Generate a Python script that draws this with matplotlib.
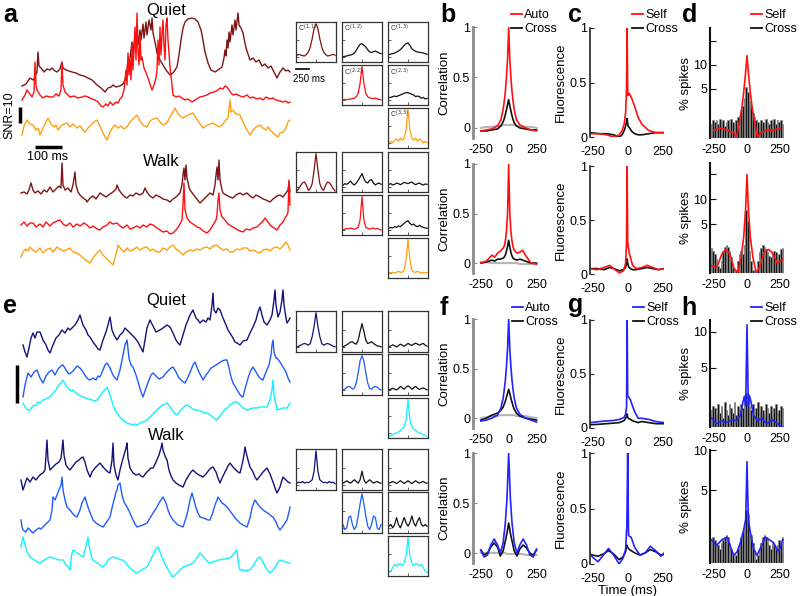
import numpy as np
import matplotlib
matplotlib.use('Agg')
import matplotlib.pyplot as plt

plt.rcParams['font.family'] = ['Liberation Sans', 'DejaVu Sans']
plt.rcParams['font.size'] = 9

W, H = 800, 596
fig = plt.figure(figsize=(8, 5.96), dpi=100)


def px_axes(x0, y0, x1, y1, **kw):
    return fig.add_axes([x0 / W, 1 - y1 / H, (x1 - x0) / W, (y1 - y0) / H], **kw)

# ---------------- colours ----------------
C_DRED, C_RED, C_ORG = '#7f1414', '#ff1010', '#ffa010'
C_NAVY, C_MBLUE, C_CYAN = '#12127a', '#1f5cff', '#10f0ff'
C_BLUE = '#2222ff'

# ---------------- raw traces (time sample, depth reading) ----------------
a_quiet_1 = [(22,86),(26,84),(30,78),(33,80),(35,77),(37,72),(38,52),(39,66),(41,68),(44,72),(47,69),(50,70),(52,68),(55,71),(57,72),(60,69),(62,62),(63,68),(66,70),(69,71),(72,72),(76,73),(80,75),(84,76),(88,78),(92,80),(97,85),(101,88),(105,92),(108,88),(111,87),(113,85),(116,87),(120,86),(123,84),(125,80),(127,70),(128,58),(129,66),(131,50),(132,42),(133,55),(135,35),(136,48),(137,27),(138,45),(140,30),(141,40),(143,24),(144,38),(146,22),(147,35),(149,20),(151,30),(152,18),(153,33),(155,42),(157,53),(160,60),(163,65),(166,70),(170,75),(173,73),(177,67),(179,55),(181,40),(183,28),(185,22),(188,19),(192,18),(195,19),(198,22),(201,30),(203,40),(205,52),(208,63),(211,70),(215,72),(218,70),(222,67),(224,58),(225,50),(226,56),(227,40),(228,48),(229,32),(230,42),(232,25),(233,35),(235,20),(236,30),(238,13),(239,25),(241,28),(243,33),(246,48),(250,60),(253,58),(256,62),(259,60),(262,66),(265,64),(268,68),(271,66),(274,72),(277,78),(280,72),(283,68),(286,71),(288,70),(290,72)]
a_quiet_2 = [(22,100),(25,95),(27,90),(30,94),(32,97),(34,92),(35,62),(36,85),(37,90),(40,95),(43,98),(46,96),(50,97),(53,97),(56,94),(59,96),(61,90),(62,63),(63,85),(65,92),(68,95),(70,97),(74,96),(78,98),(82,97),(85,96),(88,97),(92,99),(95,100),(98,102),(101,106),(103,107),(106,104),(108,106),(110,102),(113,105),(116,102),(118,103),(120,99),(122,97),(124,90),(125,80),(126,70),(127,85),(128,53),(129,75),(130,60),(131,80),(132,45),(133,70),(134,50),(135,27),(136,60),(137,13),(138,50),(139,65),(140,35),(141,60),(142,57),(144,68),(147,75),(150,84),(152,90),(154,85),(156,78),(157,70),(158,40),(159,65),(160,27),(161,55),(162,35),(163,20),(164,45),(165,60),(166,25),(167,18),(168,40),(170,67),(172,85),(173,95),(176,97),(179,96),(182,98),(185,100),(188,99),(192,102),(195,100),(198,98),(200,97),(204,96),(207,95),(210,93),(214,92),(218,90),(220,88),(223,89),(225,86),(227,87),(229,90),(231,93),(233,95),(236,94),(240,96),(243,97),(247,95),(250,98),(253,97),(257,99),(260,98),(263,100),(266,97),(270,99),(273,98),(276,100),(280,101),(283,102),(286,101),(288,103),(290,102)]
a_quiet_3 = [(22,135),(24,126),(27,120),(30,124),(33,125),(36,130),(38,128),(40,135),(43,128),(46,122),(48,118),(51,124),(54,127),(56,125),(58,130),(61,126),(64,124),(67,123),(70,127),(73,124),(77,128),(80,126),(83,130),(85,132),(88,128),(91,125),(94,122),(97,120),(100,126),(103,133),(105,137),(107,140),(110,132),(113,127),(115,125),(118,128),(121,126),(124,129),(127,127),(130,122),(133,119),(135,117),(137,115),(140,121),(143,125),(147,127),(150,121),(153,119),(157,118),(160,122),(163,125),(167,123),(170,117),(173,112),(175,108),(177,112),(180,116),(183,118),(186,116),(190,114),(193,113),(196,118),(200,124),(203,128),(206,126),(210,124),(213,123),(216,125),(219,127),(222,125),(225,121),(228,118),(230,100),(231,112),(233,110),(236,114),(240,115),(243,122),(246,128),(250,135),(253,130),(256,127),(260,125),(263,128),(266,130),(268,127),(271,131),(274,134),(278,137),(280,133),(283,132),(286,128),(288,122),(290,120)]

a_walk_1 = [(21,193),(24,192),(27,194),(29,190),(31,183),(33,190),(35,193),(38,191),(41,194),(44,190),(47,192),(50,187),(53,192),(56,189),(59,186),(61,188),(62,163),(63,185),(65,190),(68,188),(71,192),(73,185),(75,172),(76,185),(78,192),(80,195),(83,198),(86,200),(87,202),(90,198),(93,196),(96,199),(100,193),(103,195),(106,197),(110,194),(113,192),(116,189),(117,185),(119,190),(122,194),(125,197),(127,198),(130,195),(133,196),(136,193),(140,195),(143,193),(145,188),(147,192),(150,196),(153,198),(156,195),(160,197),(163,199),(167,200),(170,202),(173,199),(176,197),(180,193),(182,185),(183,175),(184,168),(185,180),(186,165),(187,178),(189,187),(190,190),(193,194),(196,198),(200,203),(203,200),(206,197),(210,193),(213,195),(215,185),(216,175),(217,167),(218,180),(219,160),(220,180),(222,190),(223,193),(226,195),(230,197),(233,198),(236,195),(240,193),(243,195),(247,193),(250,196),(253,198),(256,195),(260,197),(263,199),(266,200),(270,202),(273,199),(277,196),(280,195),(283,197),(286,193),(288,190),(289,182),(290,192)]
a_walk_2 = [(21,225),(24,222),(27,226),(30,223),(33,223),(36,227),(40,224),(43,227),(46,222),(50,226),(53,223),(57,221),(60,220),(63,224),(66,226),(70,223),(73,227),(77,224),(80,226),(84,223),(87,225),(90,228),(93,226),(97,229),(100,230),(103,227),(107,225),(110,222),(113,224),(117,223),(120,226),(123,228),(127,225),(130,229),(133,228),(137,226),(140,228),(143,225),(147,227),(150,224),(153,225),(157,228),(160,230),(163,232),(167,231),(170,234),(173,233),(176,230),(179,226),(181,222),(182,220),(183,205),(184,183),(185,210),(187,218),(190,222),(193,224),(197,227),(200,228),(203,231),(207,233),(210,230),(213,225),(216,220),(217,215),(218,200),(219,193),(220,210),(222,217),(225,220),(228,224),(231,226),(233,227),(236,229),(240,231),(243,232),(246,229),(250,230),(253,228),(257,227),(260,224),(263,221),(265,218),(268,222),(271,226),(274,228),(277,230),(280,225),(283,222),(285,218),(287,215),(288,212),(289,180),(290,205)]
a_walk_3 = [(21,257),(23,252),(26,249),(28,251),(30,247),(33,250),(36,252),(40,248),(43,253),(46,250),(50,248),(53,252),(57,247),(60,249),(63,251),(66,250),(70,248),(73,252),(77,253),(80,255),(83,258),(87,261),(90,263),(93,258),(96,254),(100,250),(103,255),(106,258),(110,262),(113,265),(115,258),(117,250),(118,245),(121,249),(124,252),(127,248),(130,251),(133,250),(137,247),(140,250),(143,248),(147,247),(150,251),(153,249),(157,252),(160,252),(163,248),(167,250),(170,247),(173,245),(176,249),(180,252),(183,255),(186,252),(190,250),(193,251),(197,249),(200,250),(203,248),(207,247),(210,249),(213,246),(217,245),(220,248),(223,250),(227,249),(230,252),(233,252),(237,249),(240,250),(243,248),(247,248),(250,251),(253,250),(257,252),(260,253),(263,250),(267,249),(270,251),(273,248),(277,247),(280,249),(283,246),(286,242),(288,245),(290,250)]

e_quiet_1 = [(23,345),(25,352),(27,357),(29,348),(31,338),(33,333),(35,338),(37,332),(40,332),(43,340),(46,345),(48,350),(50,353),(53,345),(56,338),(59,335),(62,330),(65,333),(68,328),(70,330),(73,327),(75,325),(78,320),(80,315),(83,325),(86,330),(88,335),(90,337),(93,342),(96,346),(98,349),(100,350),(103,340),(106,332),(108,325),(110,317),(112,330),(114,335),(117,340),(120,335),(123,332),(125,328),(127,330),(130,333),(133,336),(135,338),(138,342),(141,348),(143,352),(145,340),(147,328),(150,320),(153,326),(156,332),(160,330),(163,328),(167,325),(170,327),(173,333),(176,340),(178,343),(180,345),(183,335),(186,325),(190,315),(193,310),(196,318),(198,320),(200,323),(203,320),(206,322),(208,318),(210,320),(212,305),(213,293),(214,310),(216,313),(218,308),(220,310),(223,318),(226,325),(228,330),(230,333),(233,338),(235,342),(237,343),(240,345),(243,341),(247,340),(250,333),(253,327),(256,320),(258,312),(260,307),(262,315),(264,322),(267,325),(270,320),(272,315),(274,300),(275,290),(276,305),(278,317),(280,312),(282,300),(283,290),(284,305),(286,318),(287,323),(289,320),(290,318)]
e_quiet_2 = [(23,397),(25,385),(28,373),(31,377),(34,372),(37,370),(40,378),(43,383),(46,376),(49,372),(52,370),(55,375),(58,369),(61,366),(63,365),(66,370),(69,374),(71,373),(74,370),(77,366),(80,368),(83,372),(86,377),(88,379),(90,380),(93,378),(96,380),(98,376),(100,377),(103,370),(105,365),(107,363),(110,368),(113,375),(115,378),(117,380),(120,370),(123,355),(125,345),(127,340),(129,358),(131,365),(133,367),(136,375),(139,385),(141,392),(143,397),(146,388),(149,380),(151,375),(153,373),(156,376),(159,379),(161,378),(163,377),(166,373),(169,370),(171,368),(173,367),(176,372),(179,378),(182,381),(185,383),(188,377),(191,370),(193,365),(195,362),(198,370),(201,376),(203,380),(206,375),(209,371),(211,368),(213,367),(216,365),(219,363),(222,361),(225,360),(227,360),(229,368),(231,377),(233,383),(236,388),(239,393),(241,396),(243,397),(246,385),(249,375),(251,370),(253,367),(256,372),(259,377),(261,379),(263,380),(266,372),(269,365),(271,355),(272,345),(273,340),(274,352),(276,358),(277,358),(280,362),(283,367),(286,372),(288,378),(290,382)]
e_quiet_3 = [(23,403),(25,407),(28,410),(30,410),(33,406),(36,405),(38,402),(40,403),(43,400),(46,399),(48,398),(50,397),(53,393),(56,390),(58,386),(61,383),(63,380),(65,384),(68,388),(71,391),(73,390),(76,393),(79,395),(81,396),(83,397),(86,398),(89,399),(92,400),(95,401),(97,400),(100,396),(103,392),(105,390),(107,387),(109,392),(111,398),(113,405),(115,410),(117,413),(120,417),(123,420),(125,422),(127,423),(130,424),(133,425),(135,424),(137,425),(140,423),(143,422),(145,421),(147,420),(150,417),(153,414),(155,412),(157,410),(160,407),(163,405),(165,404),(167,403),(170,407),(173,411),(175,414),(177,415),(180,411),(183,408),(185,406),(187,405),(190,407),(193,409),(195,410),(197,410),(200,411),(203,412),(205,413),(207,413),(210,415),(213,417),(215,419),(217,420),(220,416),(223,412),(225,409),(227,408),(230,405),(233,403),(235,402),(237,402),(240,405),(243,408),(245,409),(247,410),(250,409),(253,408),(255,408),(257,408),(260,407),(263,407),(265,407),(267,407),(270,400),(272,390),(273,380),(274,395),(276,405),(277,410),(280,409),(283,408),(285,408),(287,408),(289,405),(290,403)]

e_walk_1 = [(21,480),(23,490),(25,484),(27,478),(30,482),(33,477),(36,480),(39,476),(41,474),(43,473),(45,470),(46,455),(47,440),(48,460),(50,470),(53,467),(56,464),(59,462),(61,458),(62,450),(63,440),(64,455),(66,465),(68,468),(70,470),(73,466),(76,462),(79,460),(81,458),(83,457),(85,462),(87,470),(90,477),(92,472),(95,468),(98,465),(100,463),(103,467),(106,470),(108,472),(110,473),(112,460),(113,443),(114,465),(116,475),(118,480),(120,470),(122,462),(124,455),(126,448),(127,443),(128,458),(130,468),(133,473),(136,475),(139,474),(141,476),(143,477),(146,473),(149,470),(151,468),(153,468),(156,462),(159,455),(161,448),(162,443),(163,450),(165,456),(167,460),(169,470),(171,476),(173,480),(176,483),(179,485),(181,486),(183,487),(186,480),(189,475),(191,472),(193,470),(196,473),(199,475),(201,476),(203,477),(206,474),(209,470),(211,468),(213,467),(216,472),(218,478),(220,483),(223,476),(226,470),(228,466),(230,463),(233,467),(236,470),(238,472),(240,473),(242,465),(244,455),(245,447),(246,452),(248,460),(250,467),(253,472),(255,477),(257,480),(260,476),(263,472),(265,470),(267,468),(270,474),(273,482),(275,488),(277,493),(280,487),(282,480),(283,477),(286,480),(288,482),(290,483)]
e_walk_2 = [(21,520),(22,527),(23,530),(26,532),(28,528),(31,531),(33,533),(36,530),(39,528),(41,529),(43,527),(46,524),(48,522),(50,520),(52,510),(53,497),(55,500),(57,495),(59,490),(61,485),(62,477),(63,490),(65,500),(67,507),(70,510),(73,514),(75,516),(77,517),(80,510),(82,503),(84,499),(85,497),(87,504),(89,510),(91,515),(93,520),(96,523),(99,525),(101,526),(103,527),(106,523),(108,520),(110,517),(112,508),(114,500),(116,492),(117,490),(118,485),(120,483),(122,495),(124,502),(127,507),(130,513),(133,520),(135,524),(137,527),(140,526),(143,525),(145,524),(147,523),(150,518),(153,513),(155,510),(157,507),(159,503),(161,500),(163,497),(166,503),(168,510),(170,515),(173,520),(176,523),(178,525),(181,526),(183,527),(186,518),(188,510),(190,500),(192,493),(194,500),(196,508),(198,513),(200,517),(203,518),(206,519),(208,520),(210,520),(213,512),(215,505),(217,500),(218,497),(220,500),(222,503),(225,505),(227,507),(230,511),(233,515),(235,518),(237,520),(240,523),(243,525),(245,526),(247,527),(250,518),(252,508),(254,502),(255,500),(257,503),(260,507),(263,510),(266,512),(269,514),(271,516),(273,517),(276,522),(278,527),(280,530),(283,526),(285,523),(287,520),(289,512),(290,507)]
e_walk_3 = [(21,547),(22,542),(23,537),(25,545),(27,552),(30,557),(33,559),(36,561),(38,562),(40,563),(43,561),(46,559),(48,558),(50,557),(53,558),(56,559),(59,560),(61,560),(63,560),(65,563),(67,566),(69,568),(70,570),(71,560),(72,553),(73,550),(76,552),(79,554),(81,556),(83,557),(85,550),(87,542),(88,537),(89,545),(91,555),(93,560),(96,562),(99,564),(101,566),(103,567),(106,564),(108,560),(111,558),(113,557),(116,558),(119,559),(121,560),(123,560),(126,563),(129,567),(132,570),(135,572),(137,573),(140,571),(143,569),(145,568),(147,567),(150,561),(153,555),(155,550),(157,548),(158,547),(160,552),(162,557),(163,560),(166,566),(169,571),(171,575),(173,577),(176,574),(179,571),(181,569),(183,567),(186,566),(189,565),(191,564),(193,563),(196,559),(198,556),(200,553),(203,556),(206,560),(208,562),(210,563),(213,562),(216,561),(218,560),(220,560),(223,559),(226,559),(228,558),(230,558),(233,555),(235,552),(237,550),(238,560),(239,567),(240,570),(243,570),(246,571),(248,570),(250,570),(253,566),(256,561),(258,558),(260,557),(263,562),(266,568),(268,571),(270,573),(273,570),(276,566),(278,562),(280,560),(283,561),(286,562),(288,563),(290,563)]

# ---------------- correlation matrices (insets) ----------------
inset_lags = [-250,-225,-200,-175,-150,-125,-100,-75,-50,-25,0,25,50,75,100,125,150,175,200,225,250]
aq_c11 = [0.05,0.08,0.06,0.04,0.03,0.08,0.15,0.3,0.55,0.85,1.0,0.85,0.55,0.3,0.15,0.08,0.03,0.04,0.06,0.08,0.05]
aq_c12 = [0.0,0.02,0.03,0.05,0.06,0.08,0.12,0.2,0.3,0.38,0.4,0.35,0.3,0.22,0.15,0.14,0.16,0.18,0.15,0.12,0.1]
aq_c13 = [0.07,0.09,0.1,0.12,0.15,0.18,0.22,0.28,0.35,0.4,0.42,0.35,0.25,0.2,0.17,0.15,0.14,0.13,0.12,0.1,0.08]
aq_c22 = [0.0,0.02,0.0,0.03,0.02,0.05,0.05,0.1,0.2,0.5,1.0,0.5,0.2,0.1,0.06,0.05,0.04,0.06,0.03,0.02,0.0]
aq_c23 = [0.07,0.08,0.1,0.12,0.1,0.13,0.15,0.18,0.2,0.22,0.22,0.2,0.17,0.15,0.1,0.12,0.1,0.05,0.08,0.03,0.05]
aq_c33 = [0.0,0.05,0.0,0.08,0.12,0.05,0.15,0.08,0.15,0.4,1.0,0.4,0.15,0.08,0.15,0.05,0.12,0.08,0.0,0.05,0.0]
aw_c11 = [-0.12,-0.05,0.05,0.13,0.15,0.05,-0.1,-0.05,0.1,0.5,1.0,0.5,0.1,-0.05,-0.1,0.05,0.15,0.13,0.05,-0.05,-0.12]
aw_c12 = [0.05,0.1,0.08,0.12,0.18,0.1,0.06,0.12,0.2,0.3,0.4,0.25,0.15,0.12,0.2,0.22,0.12,0.06,0.1,0.12,0.08]
aw_c13 = [0.08,0.1,0.06,0.08,0.12,0.1,0.07,0.1,0.14,0.12,0.1,0.13,0.15,0.1,0.07,0.1,0.12,0.08,0.06,0.09,0.08]
aw_c22 = [0.0,0.02,0.05,0.03,0.06,0.04,0.02,0.05,0.08,0.3,1.0,0.3,0.08,0.05,0.02,0.05,0.06,0.03,0.05,0.02,0.0]
aw_c23 = [0.05,0.08,0.06,0.1,0.08,0.12,0.1,0.15,0.2,0.25,0.28,0.2,0.15,0.18,0.12,0.1,0.14,0.1,0.08,0.06,0.05]
aw_c33 = [0.0,0.01,0.02,0.0,0.02,0.05,0.02,0.03,0.08,0.4,1.0,0.4,0.08,0.03,0.02,0.05,0.02,0.0,0.02,0.01,0.0]
eq_c11 = [0.0,0.02,0.05,0.08,0.1,0.08,0.05,0.1,0.3,0.6,1.0,0.6,0.3,0.1,0.05,0.08,0.1,0.08,0.05,0.02,0.0]
eq_c12 = [0.0,0.03,0.06,0.1,0.14,0.15,0.1,0.08,0.2,0.45,0.68,0.45,0.2,0.1,0.12,0.15,0.1,0.06,0.03,0.02,0.0]
eq_c13 = [0.0,0.03,0.06,0.03,0.0,0.04,0.08,0.05,0.02,0.06,0.1,0.07,0.04,0.08,0.11,0.08,0.05,0.08,0.1,0.05,0.02]
eq_c22 = [0.0,0.02,0.08,0.1,0.08,0.02,0.05,0.2,0.5,0.85,1.0,0.85,0.5,0.2,0.05,0.02,0.08,0.1,0.08,0.02,0.0]
eq_c23 = [0.0,0.02,0.05,0.02,0.0,0.04,0.1,0.06,0.02,0.08,0.12,0.08,0.02,0.06,0.1,0.05,0.01,0.04,0.06,0.03,0.0]
eq_c33 = [-0.1,-0.08,-0.05,-0.02,0.0,0.03,0.07,0.12,0.2,0.4,1.0,0.4,0.2,0.12,0.07,0.03,0.0,-0.02,-0.05,-0.08,-0.1]
ew_c11 = [0.05,0.08,0.06,0.1,0.05,0.08,0.06,0.1,0.15,0.4,1.0,0.4,0.15,0.1,0.06,0.08,0.05,0.1,0.06,0.08,0.03]
ew_c12 = [0.05,0.08,0.12,0.08,0.05,0.1,0.15,0.1,0.05,0.15,0.4,0.15,0.05,0.1,0.15,0.1,0.05,0.08,0.1,0.06,0.05]
ew_c13 = [0.05,0.07,0.1,0.07,0.04,0.08,0.12,0.08,0.04,0.08,0.12,0.08,0.04,0.08,0.12,0.08,0.05,0.08,0.1,0.06,0.05]
ew_c22 = [0.1,-0.05,0.0,0.3,0.35,0.1,-0.05,0.05,0.35,0.7,1.0,0.7,0.35,0.05,-0.05,0.1,0.35,0.3,0.0,-0.05,0.1]
ew_c23 = [0.05,0.1,0.0,0.1,0.3,0.1,0.0,0.15,0.3,0.15,0.05,0.15,0.35,0.15,0.05,0.2,0.3,0.1,0.05,0.1,0.05]
ew_c33 = [-0.05,0.0,0.1,0.2,0.15,0.2,0.22,0.15,0.25,0.45,1.0,0.45,0.25,0.15,0.22,0.2,0.15,0.2,0.1,0.0,-0.05]

# ---------------- population correlations (b, f) ----------------
b1_lag = [-250,-200,-150,-100,-70,-50,-40,-30,-20,-10,0,10,20,30,40,50,70,100,150,200,250]
b1_auto = [-0.03,-0.02,-0.01,0.02,0.08,0.18,0.26,0.36,0.5,0.68,1.0,0.68,0.5,0.36,0.26,0.18,0.08,0.03,0.0,-0.02,-0.03]
b1_cross = [-0.03,-0.03,-0.02,-0.01,0.02,0.06,0.09,0.13,0.18,0.23,0.28,0.22,0.17,0.12,0.08,0.05,0.02,0.0,-0.01,-0.02,-0.02]
b1_shuf = [0.0,0.01,0.01,0.02,0.02,0.03,0.03,0.03,0.03,0.03,0.03,0.03,0.03,0.03,0.03,0.03,0.02,0.02,0.01,0.01,0.0]
b2_lag = [-250,-200,-150,-125,-100,-75,-50,-40,-30,-20,-10,0,10,20,30,40,50,75,100,125,150,200,250]
b2_auto = [0.0,0.02,0.08,0.06,0.1,0.12,0.15,0.17,0.22,0.32,0.5,1.0,0.5,0.32,0.22,0.16,0.13,0.1,0.11,0.13,0.08,0.0,-0.01]
b2_cross = [0.0,0.01,0.03,0.02,0.04,0.04,0.05,0.06,0.08,0.12,0.17,0.23,0.16,0.11,0.07,0.05,0.04,0.03,0.04,0.03,0.02,0.0,0.0]
b2_shuf = [0.01,0.01,0.0,0.0,0.0,0.0,0.0,0.0,0.0,0.0,0.0,0.0,0.0,0.0,0.0,0.0,0.0,0.0,-0.01,-0.01,-0.01,-0.01,-0.01]
f1_auto = [-0.03,-0.02,0.0,0.03,0.1,0.2,0.28,0.38,0.52,0.7,1.0,0.7,0.52,0.38,0.28,0.2,0.1,0.04,0.0,-0.02,-0.04]
f1_cross = [-0.02,0.0,0.03,0.05,0.08,0.11,0.14,0.17,0.21,0.25,0.29,0.25,0.2,0.16,0.12,0.09,0.05,0.02,0.0,-0.01,-0.02]
f1_shuf = [0.0,0.01,0.02,0.02,0.03,0.03,0.03,0.03,0.03,0.03,0.03,0.03,0.03,0.03,0.03,0.03,0.02,0.02,0.02,0.01,0.0]
f2_lag = [-250,-220,-190,-160,-130,-100,-75,-50,-30,-15,0,15,30,50,75,100,130,160,190,220,250]
f2_auto = [0.03,-0.04,-0.02,0.08,0.14,0.08,0.0,0.1,0.3,0.55,1.0,0.55,0.3,0.1,0.0,0.08,0.14,0.08,-0.02,-0.04,0.04]
f2_cross = [0.03,-0.02,0.0,0.06,0.1,0.06,-0.03,0.02,0.12,0.2,0.3,0.2,0.12,0.02,-0.03,0.04,0.08,0.05,0.0,-0.02,0.03]
f2_shuf = [0.0,0.0,0.0,0.0,0.0,0.0,0.0,0.0,0.0,-0.01,-0.01,-0.01,-0.01,-0.01,-0.01,-0.01,-0.01,-0.02,-0.02,-0.02,-0.02]

# ---------------- spike-triggered fluorescence (c, g) ----------------
c1_lag = [-270,-200,-150,-100,-60,-40,-25,-15,-8,-4,0,4,10,20,30,50,75,100,150,200,260]
c1_self = [0.03,0.03,0.02,0.0,0.02,0.06,0.12,0.22,0.45,1.0,0.42,0.38,0.4,0.38,0.35,0.28,0.18,0.12,0.06,0.04,0.04]
c1_cross = [0.04,0.03,0.03,0.02,0.0,0.02,0.06,0.1,0.14,0.17,0.12,0.1,0.09,0.07,0.05,0.03,0.02,0.02,0.03,0.04,0.04]
c2_lag = [-270,-220,-170,-130,-100,-60,-30,-15,-8,-4,0,4,10,20,35,60,100,140,180,220,260]
c2_self = [0.05,0.04,0.06,0.08,0.05,0.01,0.03,0.1,0.3,1.0,0.3,0.25,0.2,0.15,0.08,0.05,0.06,0.08,0.06,0.04,0.05]
c2_cross = [0.05,0.05,0.04,0.06,0.05,0.03,0.04,0.06,0.1,0.14,0.1,0.08,0.06,0.05,0.04,0.04,0.05,0.06,0.05,0.04,0.05]
g1_self = [0.05,0.06,0.065,0.07,0.08,0.09,0.1,0.13,0.2,1.0,0.3,0.29,0.28,0.26,0.22,0.15,0.09,0.09,0.08,0.06,0.05]
g1_cross = [0.03,0.035,0.04,0.045,0.05,0.06,0.07,0.09,0.11,0.13,0.1,0.09,0.085,0.08,0.07,0.06,0.05,0.06,0.05,0.04,0.04]
g2_lag = [-280,-250,-212,-175,-137,-100,-62,-35,-15,-6,0,6,12,25,50,88,125,162,200,238,270]
g2_self = [0.11,0.06,0.02,0.08,0.14,0.08,0.0,0.05,0.13,0.35,1.0,0.26,0.25,0.24,0.15,0.08,0.1,0.16,0.12,0.07,0.11]
g2_cross = [0.09,0.08,0.07,0.09,0.12,0.09,0.04,0.06,0.11,0.17,0.15,0.14,0.13,0.12,0.1,0.08,0.1,0.13,0.11,0.08,0.09]

# ---------------- spike cross-correlograms (d, h) ----------------
hist_bins = [-268.75 + 12.5 * i for i in range(44)]
d1_cross = [1.8,2.0,1.9,2.0,1.8,2.1,1.9,2.0,1.7,1.9,2.0,1.8,2.1,1.9,1.8,2.0,2.2,2.3,2.6,3.0,3.8,5.2,
            4.6,3.5,3.0,2.5,2.2,2.0,1.9,1.8,2.0,1.9,1.8,2.1,1.9,1.8,2.0,1.9,2.1,1.8,2.0,1.9,2.0,1.8]
d2_cross = [2.6,2.4,2.2,1.9,1.6,1.5,1.8,2.4,2.7,2.8,2.7,2.4,2.0,1.5,1.3,1.4,1.8,2.2,2.4,2.2,2.8,7.4,
            5.5,2.4,1.8,1.4,1.3,1.4,1.8,2.3,2.6,2.8,2.7,2.5,2.3,2.1,2.0,2.2,2.4,2.3,2.0,2.2,2.5,2.6]
h1_cross = [2.2,2.4,2.3,2.0,2.5,2.1,2.4,1.9,2.6,2.2,2.0,2.5,2.3,2.1,2.6,2.0,2.4,2.2,2.5,2.3,2.6,3.1,
            3.0,2.4,2.2,2.5,2.0,2.3,2.6,2.1,2.4,2.2,2.0,2.5,2.3,2.1,2.4,2.0,2.3,2.5,2.1,2.2,2.4,2.3]
h2_cross = [2.1,2.2,2.1,2.0,1.9,1.8,2.0,2.1,2.2,2.3,2.2,2.0,1.8,1.6,1.5,1.6,1.8,2.0,2.2,2.4,2.6,3.5,
            3.3,2.5,2.3,2.0,1.7,1.5,1.6,1.8,2.0,2.2,2.3,2.2,2.1,1.9,1.8,2.0,1.9,1.8,1.9,2.1,2.0,2.2]
d1_lag = [-250,-200,-150,-100,-80,-60,-40,-25,-12,0,12,25,40,60,80,100,150,200,250]
d1_self = [1.5,1.6,1.5,1.4,1.2,1.8,2.8,4.5,7.5,13,7.5,4.5,2.8,1.8,1.2,1.4,1.5,1.5,1.6]
dh_lag = [-270,-230,-190,-160,-130,-100,-70,-45,-25,-10,0,10,25,45,70,100,130,160,190,230,270]
d2_self = [1.6,1.5,2.2,2.5,2.2,1.5,1.3,2.0,3.5,8.0,20,8.0,3.5,2.0,1.3,1.6,2.3,2.5,2.3,1.7,1.9]
h1_lag = [-270,-230,-190,-150,-110,-80,-50,-30,-20,-10,0,10,20,30,50,80,110,150,190,230,270]
h1_self = [1.9,1.7,1.8,1.75,1.85,1.8,2.0,2.6,2.9,2.4,11.5,2.4,2.9,2.6,2.0,1.8,1.9,1.7,1.85,1.7,1.6]
h2_lag = [-270,-230,-190,-150,-120,-100,-75,-50,-25,-10,0,10,25,50,75,100,137,170,200,240,270]
h2_self = [2.1,1.9,2.1,2.2,1.8,1.6,1.7,2.0,2.5,3.0,8.2,3.0,2.4,1.8,1.6,1.8,2.2,2.1,2.0,1.7,2.1]

# =====================================================================
# Trace panels (a, e)
ax_tr = px_axes(0, 0, 300, 596)
ax_tr.set_xlim(0, 300)
ax_tr.set_ylim(596, 0)
ax_tr.axis('off')
for tr, col in [(a_quiet_1, C_DRED), (a_quiet_2, C_RED), (a_quiet_3, C_ORG),
                (a_walk_1, C_DRED), (a_walk_2, C_RED), (a_walk_3, C_ORG),
                (e_quiet_1, C_NAVY), (e_quiet_2, C_MBLUE), (e_quiet_3, C_CYAN),
                (e_walk_1, C_NAVY), (e_walk_2, C_MBLUE), (e_walk_3, C_CYAN)]:
    t, v = zip(*tr)
    ax_tr.plot(t, v, color=col, lw=1.0, solid_joinstyle='round')

# scale bars
ax_tr.plot([20, 20], [107, 123], color='k', lw=2.5, solid_capstyle='butt')
ax_tr.plot([35, 62], [147, 147], color='k', lw=2.5, solid_capstyle='butt')
ax_tr.plot([17, 17], [365, 403], color='k', lw=2.5, solid_capstyle='butt')
ax_tr.text(9, 115, 'SNR=10', rotation=90, ha='center', va='center', fontsize=9)
ax_tr.text(48, 157, '100 ms', ha='center', va='center', fontsize=9)
for txt, x, y in [('Quiet', 166, 11), ('Walk', 161, 161), ('Quiet', 166, 301), ('Walk', 166, 435)]:
    ax_tr.text(x, y, txt, ha='center', va='center', fontsize=12)

# =====================================================================
# Inset matrices
cols_x = [(296, 336), (342, 382), (388, 428)]
layout = [
    ([(22, 62), (65, 105), (108, 148)], [[aq_c11, aq_c12, aq_c13], [None, aq_c22, aq_c23], [None, None, aq_c33]],
     [C_DRED, C_RED, C_ORG], True),
    ([(152, 192), (195, 235), (238, 278)], [[aw_c11, aw_c12, aw_c13], [None, aw_c22, aw_c23], [None, None, aw_c33]],
     [C_DRED, C_RED, C_ORG], False),
    ([(311, 352), (354, 395), (398, 438)], [[eq_c11, eq_c12, eq_c13], [None, eq_c22, eq_c23], [None, None, eq_c33]],
     [C_NAVY, C_MBLUE, C_CYAN], False),
    ([(449, 490), (492, 533), (536, 576)], [[ew_c11, ew_c12, ew_c13], [None, ew_c22, ew_c23], [None, None, ew_c33]],
     [C_NAVY, C_MBLUE, C_CYAN], False),
]
for rows, grid, diag, lab in layout:
    for i in range(3):
        for j in range(3):
            data = grid[i][j]
            if data is None:
                continue
            (x0, x1), (y0, y1) = cols_x[j], rows[i]
            ax = px_axes(x0, y0, x1, y1)
            col = diag[i] if i == j else '#111111'
            ax.plot(inset_lags, data, color=col, lw=0.9)
            ax.set_xlim(-262, 262)
            ax.set_ylim(-0.15, 1.05)
            ax.set_xticks([0])
            ax.set_yticks([0, 0.5])
            ax.tick_params(direction='in', length=2, width=0.6, labelleft=False, labelbottom=False, colors='#444444')
            for s in ax.spines.values():
                s.set_linewidth(0.9)
                s.set_color('#333333')
            if lab:
                ax.text(0.04, 0.97, r'C$^{(%d,%d)}$' % (i + 1, j + 1), transform=ax.transAxes,
                        fontsize=5, va='top', ha='left', color='#333333')

fig.lines.append(plt.Line2D([296 / W, 309 / W], [1 - 69 / H, 1 - 69 / H], color='k', lw=1.2, transform=fig.transFigure))
fig.text(293 / W, 1 - 79 / H, '250 ms', fontsize=7, ha='left', va='center')

# =====================================================================
# Right-hand panels

def style_axis(ax, spine_col, spine_lw, xpad=4):
    for s in ['top', 'right', 'bottom']:
        ax.spines[s].set_visible(False)
    ax.spines['left'].set_color(spine_col)
    ax.spines['left'].set_linewidth(spine_lw)
    ax.tick_params(axis='x', length=0, pad=xpad, labelsize=9)
    ax.tick_params(axis='y', direction='in', length=3, width=0.8, pad=2, labelsize=9, color=spine_col)
    ax.set_xticks([-250, 0, 250])
    ax.set_xticklabels(['-250', '0', '250'])
    ax.patch.set_alpha(0)


def legend(ax, labels, colors, x, y):
    hs = [plt.Line2D([], [], color=c, lw=1.3) for c in colors]
    ax.legend(hs, labels, loc='upper left', bbox_to_anchor=(x / W, 1 - y / H), bbox_transform=fig.transFigure,
              frameon=False, handlelength=0.85, handletextpad=0.2, labelspacing=0.15, borderpad=0,
              borderaxespad=0, fontsize=9)


def corr_panel(box, lag, auto, cross, shuf, col, leg=None):
    ax = px_axes(*box)
    ax.plot(lag, shuf, color='#b5b5b5', lw=1.5)
    ax.plot(lag, cross, color='#111111', lw=1.2)
    ax.plot(lag, auto, color=col, lw=1.2)
    ax.set_xlim(-320, 290)
    ax.set_ylim(-0.1, 1.0)
    ax.set_yticks([0, 0.5, 1])
    ax.set_yticklabels(['0', '0.5', '1'])
    style_axis(ax, '#8a8a8a', 2.0)
    ax.set_ylabel('Correlation', fontsize=9.5, labelpad=2)
    if leg:
        legend(ax, ['Auto', 'Cross'], [col, '#111111'], *leg)
    return ax


def fl_panel(box, lag, self_, cross, col, leg=None, xlabel=False):
    ax = px_axes(*box)
    ax.plot(lag, cross, color='#111111', lw=1.2)
    ax.plot(lag, self_, color=col, lw=1.2)
    ax.set_xlim(-270, 260)
    ax.set_ylim(0, 1.0)
    ax.set_yticks([0, 0.5, 1])
    ax.set_yticklabels(['0', '0.5', '1'])
    style_axis(ax, '#222222', 1.2, xpad=6.5)
    ax.set_ylabel('Fluorescence', fontsize=9.5, labelpad=2)
    if leg:
        legend(ax, ['Self', 'Cross'], [col, '#111111'], *leg)
    if xlabel:
        ax.set_xlabel('Time (ms)', fontsize=9.5, labelpad=0)
    return ax


def sp_panel(box, bars, lag, self_, col, ylim, leg=None):
    ax = px_axes(*box)
    ax.set_yscale('log')
    ax.bar(hist_bins, [b - 1.0 for b in bars], bottom=1.0, width=12.5, color='#151515',
           edgecolor='#8a8a8a', linewidth=0.5)
    ax.plot(lag, self_, color=col, lw=1.2)
    ax.set_xlim(-280, 280)
    ax.set_ylim(*ylim)
    ticks = [t for t in [5, 10, 20] if ylim[0] <= t <= ylim[1] * 1.001]
    ax.set_yticks(ticks)
    ax.set_yticklabels([str(t) if t < 20 else '' for t in ticks])
    ax.yaxis.set_minor_locator(matplotlib.ticker.NullLocator())
    style_axis(ax, '#111111', 1.5)
    ax.tick_params(axis='y', length=4)
    ax.set_ylabel('% spikes', fontsize=9.5, labelpad=1)
    if leg:
        legend(ax, ['Self', 'Cross'], [col, '#111111'], *leg)
    return ax

corr_panel((473, 27, 541, 138), b1_lag, b1_auto, b1_cross, b1_shuf, C_RED, leg=(511, 9))
corr_panel((473, 164, 541, 273), b2_lag, b2_auto, b2_cross, b2_shuf, C_RED)
corr_panel((473, 319, 541, 428), b1_lag, f1_auto, f1_cross, f1_shuf, C_BLUE, leg=(512, 302))
corr_panel((473, 453, 541, 563), f2_lag, f2_auto, f2_cross, f2_shuf, C_BLUE)

fl_panel((590, 28, 664, 137), c1_lag, c1_self, c1_cross, C_RED, leg=(632, 9))
fl_panel((590, 166, 664, 274), c2_lag, c2_self, c2_cross, C_RED)
fl_panel((590, 320, 664, 428), c1_lag, g1_self, g1_cross, C_BLUE, leg=(633, 302))
fl_panel((590, 453, 664, 564), g2_lag, g2_self, g2_cross, C_BLUE, xlabel=True)

sp_panel((710, 28, 784, 138), d1_cross, d1_lag, d1_self, C_RED, (1.2, 29), leg=(751, 9))
sp_panel((710, 163, 784, 273), d2_cross, dh_lag, d2_self, C_RED, (1.3, 27.5))
sp_panel((710, 320, 784, 427), h1_cross, h1_lag, h1_self, C_BLUE, (1.6, 12.6), leg=(751, 302))
sp_panel((710, 450, 784, 563), h2_cross, h2_lag, h2_self, C_BLUE, (1.4, 10.05))

# panel letters
for L, x, y in [('a', 3, 22), ('b', 440, 22), ('c', 568, 22), ('d', 682, 22),
                ('e', 3, 313), ('f', 440, 315), ('g', 568, 312), ('h', 681, 315)]:
    fig.text(x / W, 1 - y / H, L, fontsize=18, fontweight='bold', ha='left', va='baseline')

fig.savefig('out.png', dpi=100)
